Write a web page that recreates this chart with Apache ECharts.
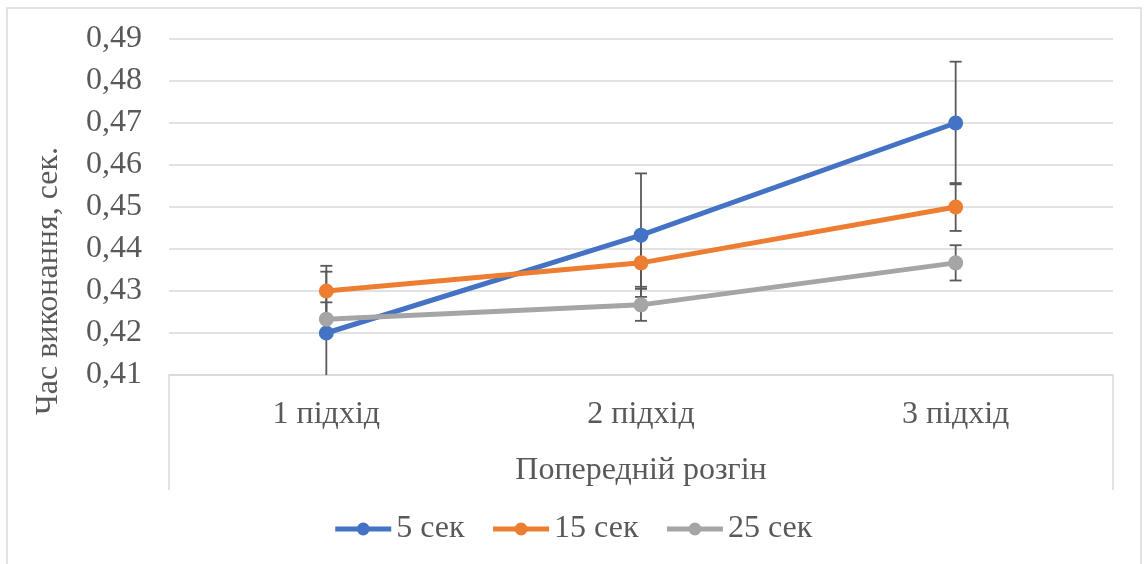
<!DOCTYPE html>
<html>
<head>
<meta charset="utf-8">
<script src="https://cdn.jsdelivr.net/npm/echarts@6/dist/echarts.min.js"></script>
<style>
html,body{margin:0;padding:0;background:#fff;}
#c{width:1145px;height:564px;}
</style>
</head>
<body>
<div id="c"></div>
<script>
const categories = ['1 підхід', '2 підхід', '3 підхід'];
const seriesNames = ['5 сек', '15 сек', '25 сек'];
const values5 = [0.420, 0.4433, 0.470];
const values15 = [0.430, 0.4367, 0.450];
const values25 = [0.4233, 0.4267, 0.4367];
const err5 = [0.0146, 0.0147, 0.0146];
const err15 = [0.0060, 0.0057, 0.0057];
const err25 = [0.0040, 0.0038, 0.0042];
const colors = ['#4472C4', '#ED7D31', '#A5A5A5'];
const yTicks = { min: 0.41, max: 0.49, interval: 0.01 };

const font = 'Liberation Serif, Times New Roman, serif';
const textColor = '#595959';
const fs = 32;
const allValues = [values5, values15, values25];
const allErr = [err5, err15, err25];

const chart = echarts.init(document.getElementById('c'));

const lineSeries = seriesNames.map((n, i) => ({
  name: n,
  type: 'line',
  data: allValues[i],
  symbol: 'circle',
  symbolSize: 15,
  lineStyle: { width: 5, color: colors[i] },
  itemStyle: { color: colors[i] },
  z: 3
}));

const errSeries = seriesNames.map((n, i) => ({
  type: 'custom',
  name: n + ' err',
  clip: true,
  silent: true,
  z: 2,
  data: allValues[i].map((v, j) => [j, v - allErr[i][j], v + allErr[i][j]]),
  renderItem: function (params, api) {
    const x = api.value(0);
    const lo = api.coord([x, api.value(1)]);
    const hi = api.coord([x, api.value(2)]);
    const hw = 6;
    const style = { stroke: '#595959', lineWidth: 1.8, fill: null };
    return {
      type: 'group',
      children: [
        { type: 'line', shape: { x1: lo[0], y1: lo[1], x2: hi[0], y2: hi[1] }, style: style },
        { type: 'line', shape: { x1: hi[0] - hw, y1: hi[1], x2: hi[0] + hw, y2: hi[1] }, style: style },
        { type: 'line', shape: { x1: lo[0] - hw, y1: lo[1], x2: lo[0] + hw, y2: lo[1] }, style: style }
      ]
    };
  },
  encode: { x: 0, y: [1, 2] }
}));

const gridLeft = 169, gridRight = 32, gridTop = 39, gridBottom = 189;
const axisY = 564 - gridBottom;

chart.setOption({
  animation: false,
  backgroundColor: '#fff',
  color: colors,
  textStyle: { fontFamily: font },
  grid: { left: gridLeft, right: gridRight, top: gridTop, bottom: gridBottom },
  xAxis: {
    type: 'category',
    data: categories,
    boundaryGap: true,
    axisLine: { show: true, lineStyle: { color: '#D9D9D9', width: 1.5 } },
    axisTick: { show: false },
    axisLabel: { fontFamily: font, fontSize: fs, color: textColor, margin: 24 },
    name: 'Попередній розгін',
    nameLocation: 'middle',
    nameGap: 80,
    nameTextStyle: { fontFamily: font, fontSize: fs, color: textColor }
  },
  yAxis: {
    type: 'value',
    min: yTicks.min,
    max: yTicks.max,
    interval: yTicks.interval,
    axisLine: { show: false },
    axisTick: { show: false },
    splitLine: { lineStyle: { color: '#D9D9D9', width: 1.5 } },
    axisLabel: {
      fontFamily: font, fontSize: fs, color: textColor, margin: 27,
      formatter: v => v.toFixed(2).replace('.', ',')
    },
    name: 'Час виконання, сек.',
    nameLocation: 'middle',
    nameRotate: 90,
    nameGap: 104,
    nameTextStyle: { fontFamily: font, fontSize: fs, color: textColor, padding: [0, 148, 0, 0] }
  },
  legend: {
    data: seriesNames,
    bottom: 14,
    left: 'center',
    itemWidth: 56,
    itemHeight: 16,
    itemGap: 26,
    lineStyle: { width: 5 },
    textStyle: { fontFamily: font, fontSize: fs, color: textColor, padding: [0, 0, 0, 0] }
  },
  graphic: [
    { type: 'rect', shape: { x: 7, y: 8, width: 1134, height: 600 }, style: { fill: null, stroke: '#D9D9D9', lineWidth: 1.5 }, silent: true },
    { type: 'line', shape: { x1: gridLeft, y1: axisY, x2: gridLeft, y2: 490 }, style: { stroke: '#D9D9D9', lineWidth: 1.5 }, silent: true },
    { type: 'line', shape: { x1: 1145 - gridRight, y1: axisY, x2: 1145 - gridRight, y2: 490 }, style: { stroke: '#D9D9D9', lineWidth: 1.5 }, silent: true }
  ],
  series: errSeries.concat(lineSeries)
});
</script>
</body>
</html>
